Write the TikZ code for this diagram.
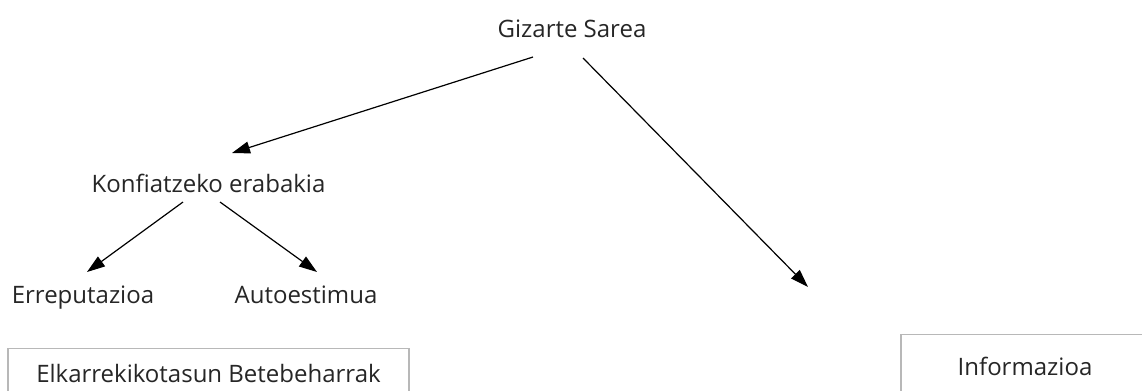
\documentclass[tikz,border=0pt]{standalone}
\usepackage{fontspec}
\setmainfont{Open Sans}
\usetikzlibrary{arrows.meta,calc}

\tikzset{
  lbl/.style={anchor=base, inner sep=0pt, text=black!85, font=\fontsize{18}{22}\selectfont},
  frame/.style={lbl, anchor=north, draw=black!28, line width=0.8pt},
  arr/.style={line width=0.9pt, -{Triangle[length=13.5pt,width=9pt]}}
}

\begin{document}
\begin{tikzpicture}[x=0.75pt, y=-0.75pt]
		%%%%% START %%%%%
		\useasboundingbox (0, 0) rectangle (1142, 390);
		\clip (0, 0) rectangle (1142, 390);
		
		\node[lbl] (giz) at (572, 37) {Gizarte Sarea};
		\node[lbl] (konf) at (208.5, 192) {Konfiatzeko erabakia};
		\node[lbl] (errep) at (83, 303) {Erreputazioa};
		\node[lbl] (auto) at (306, 303) {Autoestimua};
		
		\node[frame, minimum width=300.75pt, text height=25.5pt, text depth=45pt] (elkar) at (208.5, 348) {Elkarrekikotasun Betebeharrak};
		\node[frame, minimum width=186pt, text height=30.75pt, text depth=45pt] (info) at (1025, 334) {Informazioa};
		
		\draw[arr] ([shift={(-39, 20)}]giz.base) -- ([shift={(23.5, -39)}]konf.base);
		\draw[arr] ([shift={(11, 21)}]giz.base) -- ([shift={(-217, -47)}]info.north);
		
		\draw[arr] ([shift={(-25.5, 10)}]konf.base) -- ([shift={(4, -31)}]errep.base);
		\draw[arr] ([shift={(11.5, 10)}]konf.base) -- ([shift={(11, -31)}]auto.base);
		
		%%%%% END %%%%%
	\end{tikzpicture}
\end{document}
